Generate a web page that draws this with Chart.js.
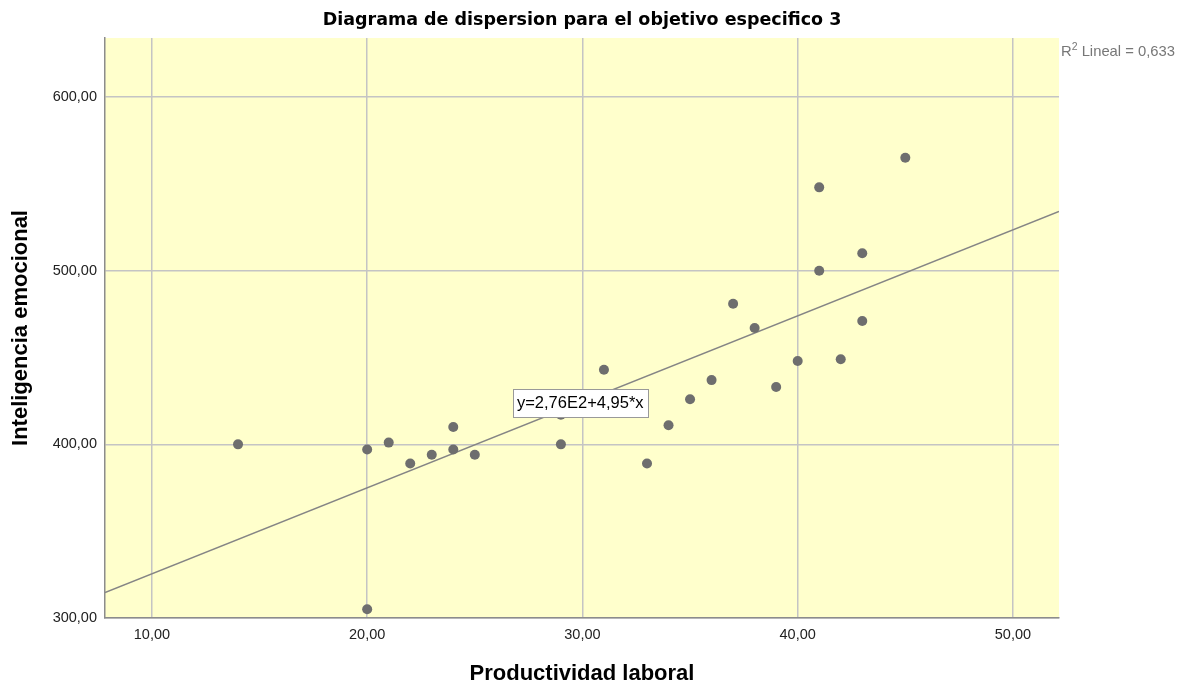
<!DOCTYPE html>
<html>
<head>
<meta charset="utf-8">
<script src="https://cdn.jsdelivr.net/npm/chart.js@4.4.0/dist/chart.umd.min.js"></script>
<style>
    html, body { margin: 0; padding: 0; background: #ffffff; }
    #wrap { width: 1179px; height: 681px; }
</style>
</head>
<body>
<div id="wrap"><canvas id="canvas1" width="1179" height="681"></canvas></div>
<script>
// datos
let productividad = [14, 20, 20, 21, 22, 23, 24, 24, 25, 29, 29, 31, 33, 34, 35, 36, 37, 38, 39, 40, 41, 41, 42, 43, 43, 45];
let inteligencia = [400, 397, 305, 401, 389, 394, 410, 397, 394, 417, 400, 443, 389, 411, 426, 437, 481, 467, 433, 448, 548, 500, 449, 510, 471, 565];
let xTicks = [10, 20, 30, 40, 50];
let yTicks = [300, 400, 500, 600];
let intercepto = 276;
let pendiente = 4.95;
let xMin = 7.82, xMax = 52.14;
let yMin = 300, yMax = 634;
let titulo = 'Diagrama de dispersion para el objetivo especifico 3';
let ecuacion = 'y=2,76E2+4,95*x';
let r2Texto = ' Lineal = 0,633';
let etiquetaX = 29.9;

let fuente = '"Liberation Sans", Arial, sans-serif';

function fmt(v) {
    return v.toFixed(2).replace('.', ',');
}

let puntos = productividad.map(function (x, i) { return { x: x, y: inteligencia[i] }; });
let recta = [
    { x: xMin, y: intercepto + pendiente * xMin },
    { x: xMax, y: intercepto + pendiente * xMax }
];

let fondoPlugin = {
    id: 'fondo',
    beforeDraw: function (chart) {
        let a = chart.chartArea;
        let ctx = chart.ctx;
        ctx.save();
        ctx.fillStyle = '#ffffcc';
        ctx.fillRect(a.left, a.top, a.right - a.left, a.bottom - a.top);
        ctx.restore();
    }
};

let textoPlugin = {
    id: 'textos',
    afterDraw: function (chart) {
        let ctx = chart.ctx;
        let a = chart.chartArea;
        let xs = chart.scales.x, ys = chart.scales.y;
        ctx.save();
        // titulo centrado sobre el area del grafico
        ctx.font = 'bold 17.5px "DejaVu Sans", sans-serif';
        ctx.fillStyle = '#000000';
        ctx.textAlign = 'center';
        ctx.textBaseline = 'middle';
        ctx.fillText(titulo, (a.left + a.right) / 2, 20);
        // etiqueta de la ecuacion
        let px = xs.getPixelForValue(etiquetaX);
        let py = ys.getPixelForValue(intercepto + pendiente * etiquetaX);
        ctx.font = '16.5px ' + fuente;
        let w = Math.round(ctx.measureText(ecuacion).width + 8);
        let h = 28;
        let bx = Math.round(px - w / 2), by = Math.round(py - h / 2);
        ctx.fillStyle = '#ffffff';
        ctx.fillRect(bx, by, w, h);
        ctx.strokeStyle = '#999999';
        ctx.lineWidth = 1;
        ctx.strokeRect(bx + 0.5, by + 0.5, w, h);
        ctx.fillStyle = '#000000';
        ctx.fillText(ecuacion, px, py + 1);
        // R2
        ctx.textAlign = 'left';
        ctx.fillStyle = '#777777';
        let rx = a.right + 2, ry = a.top + 14;
        ctx.font = '14.8px ' + fuente;
        ctx.fillText('R', rx, ry);
        let rw = ctx.measureText('R').width;
        ctx.font = '10.5px ' + fuente;
        ctx.fillText('2', rx + rw, ry - 5);
        let sw = ctx.measureText('2').width;
        ctx.font = '14.8px ' + fuente;
        ctx.fillText(r2Texto, rx + rw + sw, ry);
        ctx.restore();
    }
};

let canvas1 = document.getElementById('canvas1');
let chart1 = new Chart(canvas1, {
    type: 'scatter',
    data: {
        datasets: [{
            label: 'Recta',
            type: 'line',
            data: recta,
            borderColor: '#858585',
            borderWidth: 1.5,
            pointRadius: 0,
            fill: false,
            order: 2
        }, {
            label: 'Datos',
            data: puntos,
            backgroundColor: '#6e6e6e',
            borderWidth: 0,
            pointRadius: 5,
            order: 1
        }]
    },
    options: {
        responsive: false,
        animation: false,
        layout: {
            padding: { left: 8, right: 120, top: 38, bottom: 0 }
        },
        plugins: {
            legend: { display: false },
            tooltip: { enabled: false },
            title: { display: false }
        },
        scales: {
            x: {
                type: 'linear',
                min: xMin,
                max: xMax,
                afterBuildTicks: function (scale) {
                    scale.ticks = xTicks.map(function (v) { return { value: v }; });
                },
                afterFit: function (scale) { scale.height = 63; },
                ticks: {
                    color: '#222222',
                    padding: 8,
                    font: { family: fuente, size: 14.5 },
                    callback: function (v) { return fmt(v); }
                },
                grid: { color: '#c4c4c4', lineWidth: 1.5, drawTicks: false },
                border: { color: '#8c8c8c', width: 1.5 },
                title: {
                    display: true,
                    text: 'Productividad laboral',
                    color: '#000000',
                    font: { family: fuente, size: 22, weight: 'bold', lineHeight: 0.6 },
                    padding: { top: 0, bottom: 0 }
                }
            },
            y: {
                type: 'linear',
                min: yMin,
                max: yMax,
                afterBuildTicks: function (scale) {
                    scale.ticks = yTicks.map(function (v) { return { value: v }; });
                },
                afterFit: function (scale) { scale.width = 97; },
                ticks: {
                    color: '#222222',
                    padding: 8,
                    font: { family: fuente, size: 14.5 },
                    callback: function (v) { return fmt(v); }
                },
                grid: { color: '#c4c4c4', lineWidth: 1.5, drawTicks: false },
                border: { color: '#8c8c8c', width: 1.5 },
                title: {
                    display: true,
                    text: 'Inteligencia emocional',
                    color: '#000000',
                    font: { family: fuente, size: 22, weight: 'bold', lineHeight: 1.2 },
                    padding: { top: 0, bottom: 0 }
                }
            }
        }
    },
    plugins: [fondoPlugin, textoPlugin]
});
</script>
</body>
</html>
